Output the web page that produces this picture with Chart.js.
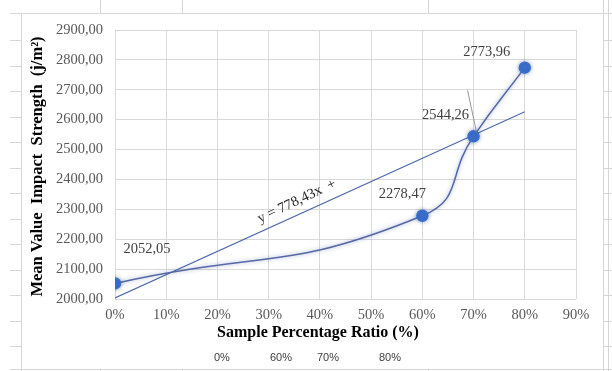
<!DOCTYPE html>
<html lang="en">
<head>
    <meta charset="UTF-8">
    <script src="https://cdn.jsdelivr.net/npm/chart.js@4.4.0/dist/chart.umd.min.js"></script>
    <title>Mean Value Impact Strength</title>
    <style>
        html,body{margin:0; padding:0; background:#fff;}
        #wrap{position:relative; width:612px; height:371px;}
        .bottomTxt{position:absolute; top:351px; font-family:"Liberation Sans",Arial,sans-serif; font-size:11px; color:#404040;}
    </style>
</head>
<body>
    <div id="wrap">
        <canvas id="myChart" width="612" height="371"></canvas>
        <span class="bottomTxt" style="left:214px">0%</span>
        <span class="bottomTxt" style="left:270px">60%</span>
        <span class="bottomTxt" style="left:317px">70%</span>
        <span class="bottomTxt" style="left:379px">80%</span>
    </div>
    <script>
        // data
        let xData = [0, 60, 70, 80]
        let yData = [2052.05, 2278.47, 2544.26, 2773.96]
        let labelText = ['2052,05', '2278,47', '2544,26', '2773,96']
        // linear trendline y = 778,43x + 2003,51 (x as fraction)
        let trendX = [0, 80]
        let trendY = [2003.51, 2626.25]
        let equation = 'y = 778,43x  +'

        const serif = '"Liberation Serif","Times New Roman",serif'
        const points = xData.map((x, i) => ({x: x, y: yData[i]}))
        const trend = trendX.map((x, i) => ({x: x, y: trendY[i]}))

        // offsets of the data labels from their point
        const labelOffset = [[32, -34], [-20, -22], [-28, -21], [-38, -15]]

        const sheetLines = {
            id: 'sheetLines',
            beforeDraw(chart) {
                const c = chart.ctx
                c.save()
                c.strokeStyle = '#d6d6d6'
                c.lineWidth = 1
                c.beginPath()
                c.moveTo(10, 13.5); c.lineTo(612, 13.5)
                c.moveTo(10, 369.5); c.lineTo(612, 369.5)
                c.moveTo(21.5, 13); c.lineTo(21.5, 371)
                c.moveTo(603.5, 0); c.lineTo(603.5, 371)
                c.moveTo(608.5, 0); c.lineTo(608.5, 371)
                for (let y = 40; y < 371; y += 25.5) {
                    c.moveTo(10, Math.round(y) + 0.5); c.lineTo(21, Math.round(y) + 0.5)
                    c.moveTo(604, Math.round(y) + 0.5); c.lineTo(612, Math.round(y) + 0.5)
                }
                ;[100, 182, 428].forEach(x => {
                    c.moveTo(x + 0.5, 0); c.lineTo(x + 0.5, 13)
                    c.moveTo(x + 0.5, 369); c.lineTo(x + 0.5, 371)
                })
                c.stroke()
                c.restore()
            }
        }

        const extras = {
            id: 'extras',
            beforeDatasetDraw(chart, args) {
                if (args.index === 0) {
                    chart.ctx.save()
                    chart.ctx.shadowColor = 'rgba(40,70,140,0.45)'
                    chart.ctx.shadowBlur = 4
                }
            },
            afterDatasetDraw(chart, args) {
                if (args.index === 0) chart.ctx.restore()
            },
            afterDraw(chart) {
                const c = chart.ctx
                const meta = chart.getDatasetMeta(0)
                const xs = chart.scales.x, ys = chart.scales.y
                c.save()
                // data labels
                c.font = '14.5px ' + serif
                c.fillStyle = '#404040'
                c.textAlign = 'center'
                c.textBaseline = 'middle'
                meta.data.forEach((p, i) => {
                    c.fillText(labelText[i], p.x + labelOffset[i][0], p.y + labelOffset[i][1])
                })
                // leader line for 2544,26
                const p2 = meta.data[2]
                c.strokeStyle = '#7f7f7f'
                c.lineWidth = 0.8
                c.beginPath()
                c.moveTo(p2.x - 6, p2.y - 46)
                c.lineTo(p2.x + 3, p2.y - 4)
                c.stroke()
                // trendline equation, sitting just above the trendline
                c.save()
                c.translate(xs.getPixelForValue(35.5), ys.getPixelForValue(2327))
                c.rotate(-25.5 * Math.PI / 180)
                c.font = '14.5px ' + serif
                c.fillStyle = '#262626'
                c.fillText(equation, 0, 0)
                c.restore()
                // axis titles
                c.fillStyle = '#000'
                c.font = 'bold 16px ' + serif
                c.fillText('Sample Percentage Ratio (%)', 318, 333)
                c.save()
                c.translate(38, (chart.chartArea.top + chart.chartArea.bottom) / 2 + 2)
                c.rotate(-Math.PI / 2)
                c.font = 'bold 16.5px ' + serif
                c.fillText('Mean Value  Impact  Strength  (j/m²)', 0, 0)
                c.restore()
                c.restore()
            }
        }

        const ctx = document.getElementById('myChart').getContext('2d')
        const myChart = new Chart(ctx, {
            type: 'line',
            data: {
                datasets: [{
                    label: 'Impact strength',
                    data: points,
                    borderColor: '#5668a6',
                    borderWidth: 1.5,
                    pointBackgroundColor: '#3b6fce',
                    pointBorderColor: '#3b6fce',
                    pointRadius: 5.5,
                    tension: 0.5,
                    fill: false
                }, {
                    label: 'Linear',
                    data: trend,
                    borderColor: '#4e68ad',
                    borderWidth: 1.1,
                    pointRadius: 0,
                    tension: 0,
                    fill: false
                }]
            },
            options: {
                responsive: false,
                animation: false,
                layout: {padding: {left: 0, top: 30, right: 36, bottom: 0}},
                plugins: {legend: {display: false}, tooltip: {enabled: false}},
                scales: {
                    x: {
                        type: 'linear',
                        min: 0, max: 90,
                        afterFit: s => { s.height = 72 },
                        grid: {color: '#d9d9d9', drawTicks: false},
                        border: {display: false},
                        ticks: {
                            stepSize: 10,
                            padding: 7,
                            color: '#595959',
                            font: {family: serif, size: 14.5},
                            callback: v => v + '%'
                        }
                    },
                    y: {
                        min: 2000, max: 2900,
                        afterFit: s => { s.width = 115 },
                        grid: {color: '#d9d9d9', drawTicks: false},
                        border: {display: false},
                        ticks: {
                            stepSize: 100,
                            padding: 12,
                            color: '#595959',
                            font: {family: serif, size: 14.5},
                            callback: v => v.toFixed(2).replace('.', ',')
                        }
                    }
                }
            },
            plugins: [sheetLines, extras]
        })
    </script>
</body>
</html>
